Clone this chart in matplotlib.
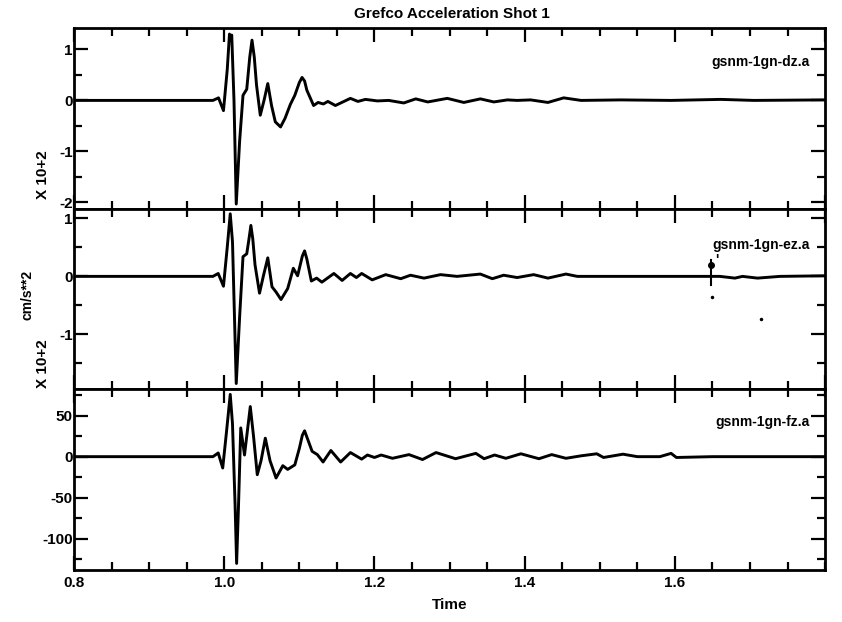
import numpy as np
import matplotlib
matplotlib.use("Agg")
import matplotlib.pyplot as plt
from matplotlib.ticker import MultipleLocator, FixedLocator

plt.rcParams['font.family'] = ['Liberation Sans', 'DejaVu Sans']
plt.rcParams['font.weight'] = 'bold'
plt.rcParams['axes.unicode_minus'] = False

# station dz (x 10^2 cm/s**2)
t_dz = [0.80, 0.985, 0.9924, 0.999, 1.004, 1.007, 1.0085, 1.010, 1.013, 1.016,
        1.0205, 1.025, 1.030, 1.034, 1.037, 1.040, 1.043, 1.048, 1.053, 1.058,
        1.063, 1.068, 1.075, 1.081, 1.088, 1.094, 1.100, 1.1036, 1.107, 1.110,
        1.119, 1.125, 1.132, 1.138, 1.148, 1.168, 1.178, 1.188, 1.204, 1.219,
        1.239, 1.255, 1.271, 1.297, 1.319, 1.341, 1.359, 1.377, 1.390, 1.408,
        1.431, 1.452, 1.475, 1.528, 1.595, 1.661, 1.705, 1.80]
a_dz = [0.0, 0.0, 0.05, -0.20, 0.60, 1.30, 1.22, 1.28, 0.0, -2.03,
        -0.80, 0.10, 0.22, 0.85, 1.18, 0.85, 0.30, -0.29, 0.0, 0.33,
        -0.10, -0.42, -0.52, -0.35, -0.08, 0.10, 0.35, 0.45, 0.38, 0.20,
        -0.10, -0.04, -0.07, -0.02, -0.10, 0.04, -0.02, 0.02, -0.01, 0.0,
        -0.05, 0.03, -0.03, 0.04, -0.04, 0.03, -0.03, 0.01, 0.0, 0.01,
        -0.04, 0.05, 0.0, 0.01, 0.0, 0.02, 0.0, 0.01]

# station ez (x 10^2 cm/s**2)
t_ez = [0.80, 0.985, 0.992, 0.999, 1.004, 1.008, 1.011, 1.016, 1.0205, 1.025,
        1.030, 1.033, 1.0355, 1.038, 1.041, 1.047, 1.052, 1.058, 1.0636, 1.069,
        1.0756, 1.0845, 1.092, 1.0977, 1.104, 1.107, 1.110, 1.116, 1.123, 1.130,
        1.146, 1.157, 1.168, 1.176, 1.183, 1.197, 1.215, 1.235, 1.248, 1.266,
        1.288, 1.310, 1.341, 1.357, 1.372, 1.390, 1.412, 1.431, 1.455, 1.470,
        1.52, 1.60, 1.66, 1.680, 1.69, 1.71, 1.74, 1.80]
a_ez = [0.0, 0.0, 0.05, -0.17, 0.50, 1.08, 0.60, -1.85, -0.70, 0.34,
        0.39, 0.65, 0.88, 0.65, 0.20, -0.29, 0.0, 0.32, -0.18, -0.27,
        -0.40, -0.21, 0.14, 0.01, 0.35, 0.44, 0.30, -0.08, -0.03, -0.10,
        0.05, -0.07, 0.05, -0.02, 0.05, -0.06, 0.03, -0.04, 0.02, -0.03,
        0.03, 0.0, 0.04, -0.04, 0.02, -0.02, 0.03, -0.03, 0.04, 0.0,
        0.0, 0.0, 0.0, -0.03, 0.0, -0.03, 0.0, 0.01]

# station fz (cm/s**2)
t_fz = [0.80, 0.985, 0.992, 0.998, 1.003, 1.008, 1.011, 1.0145, 1.0165, 1.019,
        1.022, 1.027, 1.0347, 1.039, 1.044, 1.049, 1.0547, 1.061, 1.069, 1.078,
        1.0845, 1.094, 1.100, 1.104, 1.107, 1.110, 1.117, 1.124, 1.1316, 1.142,
        1.155, 1.168, 1.183, 1.1907, 1.200, 1.209, 1.224, 1.246, 1.264, 1.282,
        1.308, 1.335, 1.346, 1.360, 1.375, 1.395, 1.419, 1.436, 1.455, 1.475,
        1.496, 1.505, 1.531, 1.55, 1.580, 1.595, 1.602, 1.65, 1.80]
a_fz = [0.0, 0.0, 4.5, -13.8, 30.0, 75.8, 40.0, -60.0, -130.0, -60.0,
        35.0, 2.0, 61.0, 25.0, -22.0, -5.0, 22.5, -5.0, -26.0, -11.0,
        -15.5, -10.0, 10.0, 26.0, 31.5, 24.0, 6.5, 2.5, -6.5, 7.5,
        -6.5, 5.0, -3.0, 2.0, -1.0, 2.0, -2.0, 2.5, -3.5, 5.0,
        -2.5, 4.0, -2.5, 2.0, -2.0, 3.5, -2.5, 2.5, -2.0, 1.0,
        3.5, -1.0, 3.0, 0.0, 0.0, 4.0, -1.0, 0.0, 0.0]

# pick mark on the ez trace and stray dots
pick_t = 1.648
pick_lo, pick_hi = -0.15, 0.28
dot_t = [1.650, 1.715]
dot_a = [-0.35, -0.73]

names = ["gsnm-1gn-dz.a", "gsnm-1gn-ez.a", "gsnm-1gn-fz.a"]
ylims = [(-2.12, 1.42), (-1.95, 1.17), (-138, 82)]
ymajor = [[-2, -1, 0, 1], [-1, 0, 1], [-100, -50, 0, 50]]
yminor = [0.5, 0.5, 25]
name_y = [0.81, 0.80, 0.82]

fig = plt.figure(figsize=(8.42, 6.22), dpi=100)
left, width = 0.0879, 0.892
h = 0.2905
bottoms = [0.0836 + 2 * h, 0.0836 + h, 0.0836]

traces = [(t_dz, a_dz), (t_ez, a_ez), (t_fz, a_fz)]
axes = []
for i, (tt, aa) in enumerate(traces):
    ax = fig.add_axes([left, bottoms[i], width, h])
    ax.plot(tt, aa, color='black', lw=2.1, solid_joinstyle='round')
    ax.set_xlim(0.8, 1.8)
    ax.set_ylim(*ylims[i])
    ax.xaxis.set_major_locator(MultipleLocator(0.2))
    ax.xaxis.set_minor_locator(MultipleLocator(0.05))
    ax.yaxis.set_major_locator(FixedLocator(ymajor[i]))
    ax.yaxis.set_minor_locator(MultipleLocator(yminor[i]))
    ax.tick_params(which='both', direction='in', top=True, right=True,
                   width=1.6, labelsize=11, pad=1)
    ax.tick_params(which='major', length=10)
    ax.tick_params(which='minor', length=6)
    for s in ax.spines.values():
        s.set_linewidth(2.0)
    ax.text(0.98, name_y[i], names[i], transform=ax.transAxes,
            ha='right', va='center', fontsize=10, fontweight='bold')
    if i < 2:
        ax.tick_params(labelbottom=False)
    axes.append(ax)

# pick mark
axes[1].plot([pick_t, pick_t], [pick_lo, pick_hi], color='black', lw=1.5)
axes[1].plot([pick_t], [0.20], marker='o', ms=4, color='black')
axes[1].text(pick_t + 0.006, 0.22, "'", fontsize=10, fontweight='bold')
axes[1].plot(dot_t, dot_a, ls='none', marker='o', ms=1.5, color='black')

axes[2].set_xticks([0.8, 1.0, 1.2, 1.4, 1.6])
axes[2].set_xticklabels(["0.8", "1.0", "1.2", "1.4", "1.6"])
axes[2].tick_params(axis='x', pad=4)
axes[2].set_xlabel("Time", fontsize=11, fontweight='bold', labelpad=6)

fig.text(0.537, 0.977, "Grefco Acceleration Shot 1", ha='center', va='center',
         fontsize=11, fontweight='bold')
fig.text(0.051, 0.72, "X 10+2", rotation=90, ha='center', va='center',
         fontsize=11, fontweight='bold')
fig.text(0.051, 0.415, "X 10+2", rotation=90, ha='center', va='center',
         fontsize=11, fontweight='bold')
fig.text(0.033, 0.525, "cm/s**2", rotation=90, ha='center', va='center',
         fontsize=10, fontweight='bold')

fig.savefig("out.png", dpi=100)
